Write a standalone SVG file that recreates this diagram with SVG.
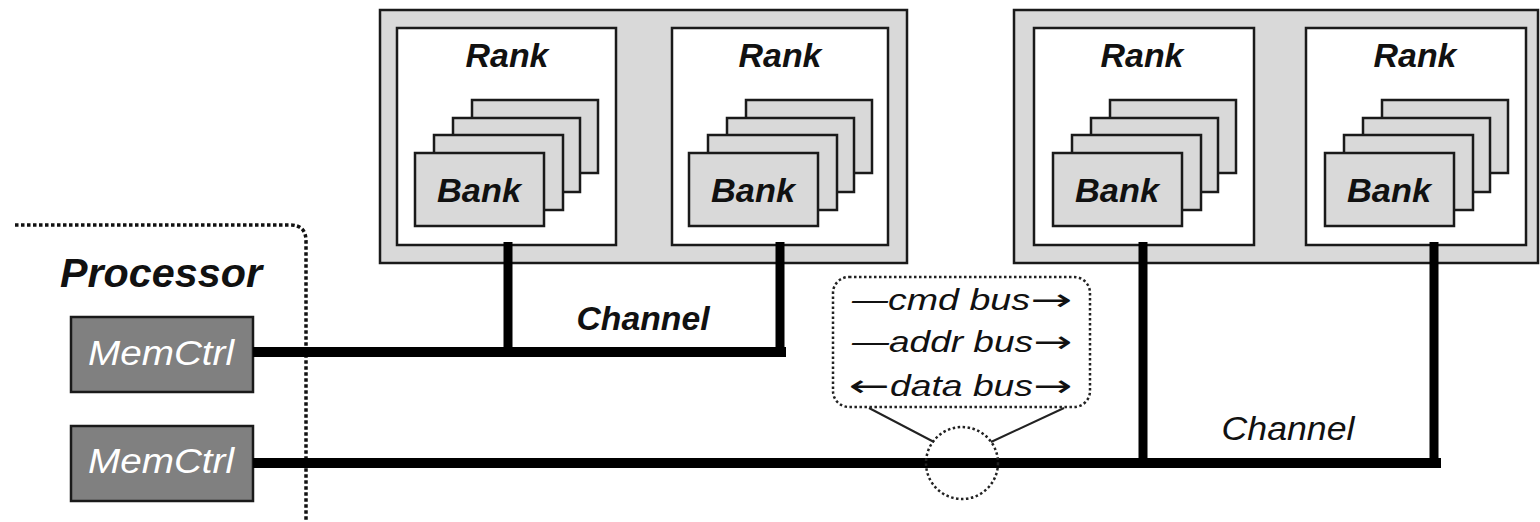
<svg xmlns="http://www.w3.org/2000/svg" width="1540" height="522" viewBox="0 0 1540 522">
<style>
.dimm{fill:#d9d9d9;stroke:#1a1a1a;stroke-width:2.5}
.rank{fill:#ffffff;stroke:#1a1a1a;stroke-width:2.5}
.bank{fill:#d9d9d9;stroke:#1a1a1a;stroke-width:2.5}
.mc{fill:#808080;stroke:#1a1a1a;stroke-width:2.5}
.bus{stroke:#000;stroke-width:10;fill:none}
.drop{stroke:#000;stroke-width:9;fill:none}
.lbl{font-family:"Liberation Sans",Arial,sans-serif;font-style:italic;font-weight:bold;fill:#111;text-anchor:middle}
.mct{font-family:"Liberation Sans",Arial,sans-serif;font-style:italic;fill:#fff;text-anchor:middle;font-size:35px}
.bt{font-family:"Liberation Sans",Arial,sans-serif;font-style:italic;fill:#111;font-size:29px}
.ar{font-family:"DejaVu Sans",sans-serif;fill:#111;font-size:30px}
.dot{fill:none;stroke:#222;stroke-width:2.5;stroke-dasharray:2.5 2.5}
</style>
<defs>
<g id="bankstack">
<rect class="bank" x="57" y="-45" width="126" height="73"/>
<rect class="bank" x="38" y="-27" width="127" height="74"/>
<rect class="bank" x="19" y="-10" width="129" height="75"/>
<rect class="bank" x="0" y="8" width="129" height="73"/>
<text class="lbl" x="64" y="57" font-size="34" textLength="84" lengthAdjust="spacingAndGlyphs">Bank</text>
</g>
</defs>

<g id="dimm1">
<rect class="dimm" x="380" y="10" width="527" height="253"/>
</g>
<g id="rank1">
<rect class="rank" x="397" y="28" width="219" height="217"/>
<text class="lbl" x="507" y="67" font-size="34" textLength="83" lengthAdjust="spacingAndGlyphs">Rank</text>
<use href="#bankstack" x="415" y="145"/>
</g>
<g id="rank2">
<rect class="rank" x="672" y="28" width="216" height="217"/>
<text class="lbl" x="780" y="67" font-size="34" textLength="83" lengthAdjust="spacingAndGlyphs">Rank</text>
<use href="#bankstack" x="689" y="145"/>
</g>

<g id="dimm2">
<rect class="dimm" x="1014" y="10" width="524" height="253"/>
</g>
<g id="rank3">
<rect class="rank" x="1034" y="28" width="220" height="217"/>
<text class="lbl" x="1142" y="67" font-size="34" textLength="83" lengthAdjust="spacingAndGlyphs">Rank</text>
<use href="#bankstack" x="1053" y="145"/>
</g>
<g id="rank4">
<rect class="rank" x="1306" y="28" width="220" height="217"/>
<text class="lbl" x="1415" y="67" font-size="34" textLength="83" lengthAdjust="spacingAndGlyphs">Rank</text>
<use href="#bankstack" x="1325" y="145"/>
</g>

<g id="processor">
<path d="M15,225 H290 Q306,225 306,241 V522" fill="none" stroke="#111" stroke-width="3.5" stroke-dasharray="3.5 2.5"/>
<text class="lbl" x="161" y="287" font-size="40" textLength="202" lengthAdjust="spacingAndGlyphs">Processor</text>
</g>
<g id="memctrl1">
<rect class="mc" x="71" y="317" width="182" height="75"/>
<text class="mct" x="161" y="365" textLength="146" lengthAdjust="spacingAndGlyphs">MemCtrl</text>
</g>
<g id="memctrl2">
<rect class="mc" x="71" y="426" width="182" height="75"/>
<text class="mct" x="161" y="473" textLength="146" lengthAdjust="spacingAndGlyphs">MemCtrl</text>
</g>

<g id="connectors">
<path class="drop" d="M508,242 V352"/>
<path class="drop" d="M780,242 V352"/>
<path class="bus" d="M253,352 H786"/>
<path class="drop" d="M1143,242 V463"/>
<path class="drop" d="M1434,242 V463"/>
<path class="bus" d="M253,463 H1441"/>
</g>

<g id="channel-labels">
<text class="lbl" x="643" y="330" font-size="34" textLength="133" lengthAdjust="spacingAndGlyphs">Channel</text>
<text class="lbl" x="1288" y="440" font-size="34" textLength="133" lengthAdjust="spacingAndGlyphs" style="font-weight:normal">Channel</text>
</g>

<g id="bus-callout">
<rect class="dot" x="833" y="277" width="257" height="130" rx="16"/>
<circle class="dot" cx="962" cy="463" r="36" stroke-dasharray="3 3"/>
<path d="M869,408 L934,442 M1064,408 L991,442" stroke="#222" stroke-width="2" fill="none"/>
<text class="bt" x="852" y="310" textLength="36" lengthAdjust="spacingAndGlyphs">—</text>
<text class="bt" x="888" y="310" textLength="142" lengthAdjust="spacingAndGlyphs">cmd bus</text>
<text class="ar" x="1030" y="310" textLength="42" lengthAdjust="spacingAndGlyphs">→</text>
<text class="bt" x="852" y="352" textLength="37" lengthAdjust="spacingAndGlyphs">—</text>
<text class="bt" x="889" y="352" textLength="144" lengthAdjust="spacingAndGlyphs">addr bus</text>
<text class="ar" x="1033" y="352" textLength="39" lengthAdjust="spacingAndGlyphs">→</text>
<text class="ar" x="849" y="396" textLength="41" lengthAdjust="spacingAndGlyphs">←</text>
<text class="bt" x="890" y="396" textLength="143" lengthAdjust="spacingAndGlyphs">data bus</text>
<text class="ar" x="1033" y="396" textLength="39" lengthAdjust="spacingAndGlyphs">→</text>
</g>
</svg>
